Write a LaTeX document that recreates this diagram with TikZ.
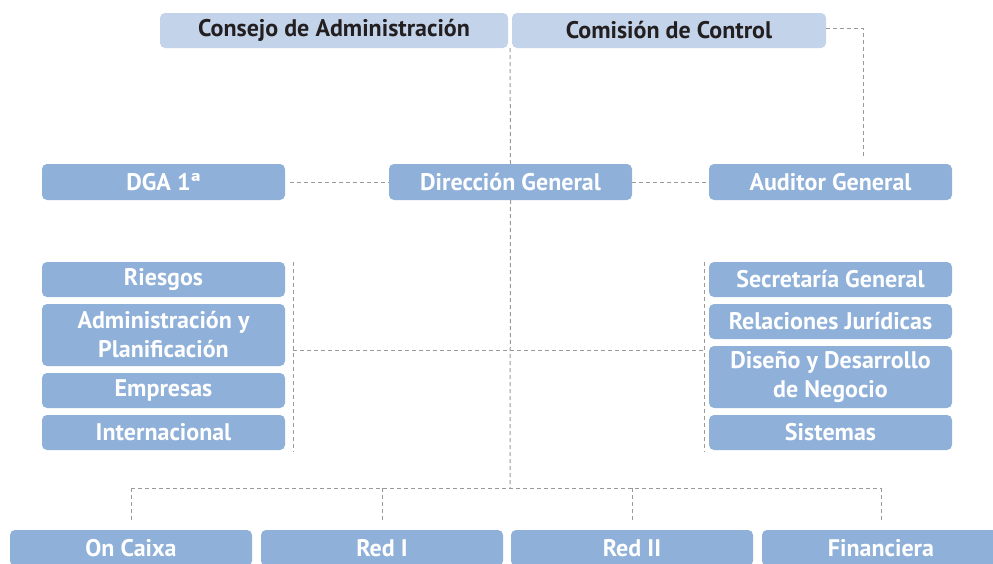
\documentclass[tikz,border=0pt]{standalone}
\usepackage{fontspec}
\setmainfont{PT Sans}
\usetikzlibrary{calc}
\definecolor{boxblue}{HTML}{8FB0D9}
\definecolor{boxlight}{HTML}{C3D3EA}
\definecolor{darktext}{HTML}{231F20}
\definecolor{dashgray}{HTML}{9A9A9A}
\begin{document}
\begin{tikzpicture}[x=1pt,y=-1pt,
  box/.style={fill=boxblue, rounded corners=5pt, minimum width=243pt, minimum height=35pt,
    inner sep=0pt, align=center, text=white, font=\fontsize{24}{29}\selectfont\bfseries},
  topbox/.style={box, fill=boxlight, text=darktext},
  link/.style={draw=dashgray, line width=1pt, dash pattern=on 4pt off 3pt}]
\useasboundingbox (0,0) rectangle (993,563);
\clip (0,0) rectangle (993,563);
% top
\node[topbox, minimum width=348pt] (consejo) at (334,30.5) {Consejo de Administración};
\node[topbox, minimum width=314pt] (comision) at (669,30.5) {Comisión de Control};
% second row
\node[box, minimum height=36pt] (dga) at (163.5,182) {DGA 1ª};
\node[box, minimum height=36pt] (dg) at (510.5,182) {Dirección General};
\node[box, minimum height=36pt] (aud) at (830.5,182) {Auditor General};
% left column
\node[box] (riesgos) at (163.5,279.5) {Riesgos};
\node[box, minimum height=62pt] (admin) at (163.5,335) {Administración y\\Planificación};
\node[box] (empresas) at (163.5,390.5) {Empresas};
\node[box] (intl) at (163.5,432.5) {Internacional};
% right column
\node[box] (secre) at (830.5,279.5) {Secretaría General};
\node[box] (rel) at (830.5,321.5) {Relaciones Jurídicas};
\node[box, minimum height=62pt] (diseno) at (830.5,377) {Diseño y Desarrollo\\de Negocio};
\node[box] (sist) at (830.5,432.5) {Sistemas};
% bottom row
\node[box, minimum width=242pt, minimum height=36pt] (oncaixa) at (131,548) {On Caixa};
\node[box, minimum width=242pt, minimum height=36pt] (redi) at (382,548) {Red I};
\node[box, minimum width=242pt, minimum height=36pt] (redii) at (632,548) {Red II};
\node[box, minimum width=238pt, minimum height=36pt] (fin) at (881,548) {Financiera};
% helper coordinates
\coordinate (topmid) at ($(consejo.south east)!0.5!(comision.south west)$);
\coordinate (hub) at (510,488);
\coordinate (lvt) at (293,262);
\coordinate (lvb) at (293,452);
\coordinate (rvt) at (704,262);
\coordinate (rvb) at (704,452);
\coordinate (lmid) at (293,350);
\coordinate (rmid) at (704,350);
\coordinate (audtop) at (863,28);
% connectors
\draw[link] (topmid) -- (dg.north);
\draw[link] (dg.south) -- (hub);
\draw[link, shorten <=5pt] (dga.east) -- (dg.west);
\draw[link] (dg.east) -- (aud.west);
\draw[link, shorten >=6pt] (comision.east |- audtop) -- (audtop) -- (aud.north -| audtop);
\draw[link] (lvt) -- (lvb);
\draw[link] (rvt) -- (rvb);
\draw[link] (lmid) -- (rmid);
\draw[link] (oncaixa.north |- hub) -- (fin.north |- hub);
\foreach \n in {oncaixa,redi,redii,fin}
  \draw[link, shorten >=8pt] (\n.north |- hub) -- (\n.north);
\end{tikzpicture}
\end{document}
